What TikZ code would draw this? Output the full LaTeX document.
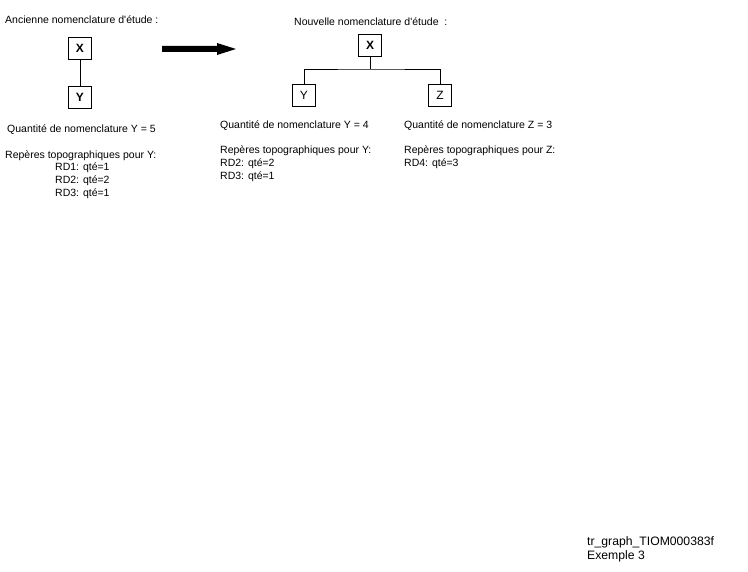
\documentclass[tikz,border=0pt]{standalone}
\usepackage{fontspec}
\setmainfont{Liberation Sans}[Ligatures=TeXOff]
\begin{document}
\begin{tikzpicture}[x=1pt,y=-1pt,
  txt/.style={anchor=west,inner sep=0pt,font=\fontsize{10.5}{12}\selectfont},
  foot/.style={anchor=west,inner sep=0pt,font=\fontsize{12.2}{14}\selectfont},
  bx/.style={draw,line width=0.8pt,minimum width=23pt,minimum height=22pt,inner sep=0pt,font=\fontsize{12}{12}\selectfont},
  conn/.style={line width=0.8pt}]
\useasboundingbox (0,0) rectangle (748,572);
% old
\node[txt] (t1) at (5,20) {Ancienne nomenclature d'étude :};
\node[bx,font=\fontsize{12}{12}\selectfont\bfseries] (ox) at (80,48) {X};
\node[bx,font=\fontsize{12}{12}\selectfont\bfseries] (oy) at (80,97) {Y};
\draw[conn] (ox) -- (oy);
\node[txt] (q1) at (7,130) {Quantité de nomenclature Y = 5};
\node[txt] (r1) at (5,156) {Repères topographiques pour Y:};
\node[txt] (r1a) at (55,168) {RD1: qté=1};
\node[txt] (r1b) at (55,181) {RD2: qté=2};
\node[txt] (r1c) at (55,194) {RD3: qté=1};
% arrow
\coordinate (a1) at (162,49);
\coordinate (a2) at (236,49);
\fill (a1) ++(0,-3) -- ++(55,0) -- ++(0,-3) -- (a2) -- ++(-19,6) -- ++(0,-3) -- ++(-55,0) -- cycle;
% new
\node[txt] (t2) at (294,22) {Nouvelle nomenclature d'étude\ \ :};
\node[bx,font=\fontsize{12}{12}\selectfont\bfseries] (nx) at (370,45) {X};
\node[bx] (ny) at (304,95) {Y};
\node[bx] (nz) at (440,95) {Z};
\coordinate (j) at (370,69);
\draw[conn] (nx) -- (j);
\draw[conn] (ny.north) |- (j) -| (nz.north);
\node[txt] (q2) at (220,126) {Quantité de nomenclature Y = 4};
\node[txt] (r2) at (220,151) {Repères topographiques pour Y:};
\node[txt] (r2a) at (220,164) {RD2: qté=2};
\node[txt] (r2b) at (220,177) {RD3: qté=1};
\node[txt] (q3) at (404,126) {Quantité de nomenclature Z = 3};
\node[txt] (r3) at (404,151) {Repères topographiques pour Z:};
\node[txt] (r3a) at (404,164) {RD4: qté=3};
% footer
\node[foot] (f1) at (587,542) {tr\_graph\_TIOM000383f};
\node[foot] (f2) at (587,556) {Exemple 3};
\end{tikzpicture}
\end{document}
